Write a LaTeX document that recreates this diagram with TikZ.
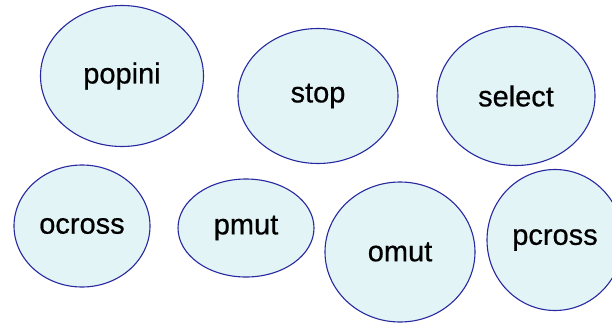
\documentclass[tikz,border=0pt]{standalone}
\usepackage{fontspec}
\setmainfont{Liberation Sans}
\newfontfamily\lblfont[FakeBold=0.6]{Liberation Sans}
\usetikzlibrary{shapes.geometric}
\definecolor{ellfill}{RGB}{226,244,245}
\definecolor{elldraw}{RGB}{40,40,160}
\begin{document}
\begin{tikzpicture}[x=1pt,y=-1pt,
  op/.style={ellipse,draw=elldraw,fill=ellfill,line width=1.1pt,inner sep=0pt,
    font=\lblfont\fontsize{29}{34}\selectfont}]
\useasboundingbox (0,0) rectangle (612,324);
\node[op,minimum width=163pt,minimum height=141pt] (popini) at (122,76) {popini};
\node[op,minimum width=160pt,minimum height=135pt] (stop) at (318,96) {stop};
\node[op,minimum width=158pt,minimum height=139pt] (select) at (516,96) {select};
\node[op,minimum width=136pt,minimum height=122pt] (ocross) at (82,226) {ocross};
\node[op,minimum width=136pt,minimum height=98pt] (pmut) at (246,228) {pmut};
\node[op,minimum width=150pt,minimum height=140pt] (omut) at (400,252) {omut};
\node[op,minimum width=136pt,minimum height=141pt] (pcross) at (555,240) {pcross};
\end{tikzpicture}
\end{document}
